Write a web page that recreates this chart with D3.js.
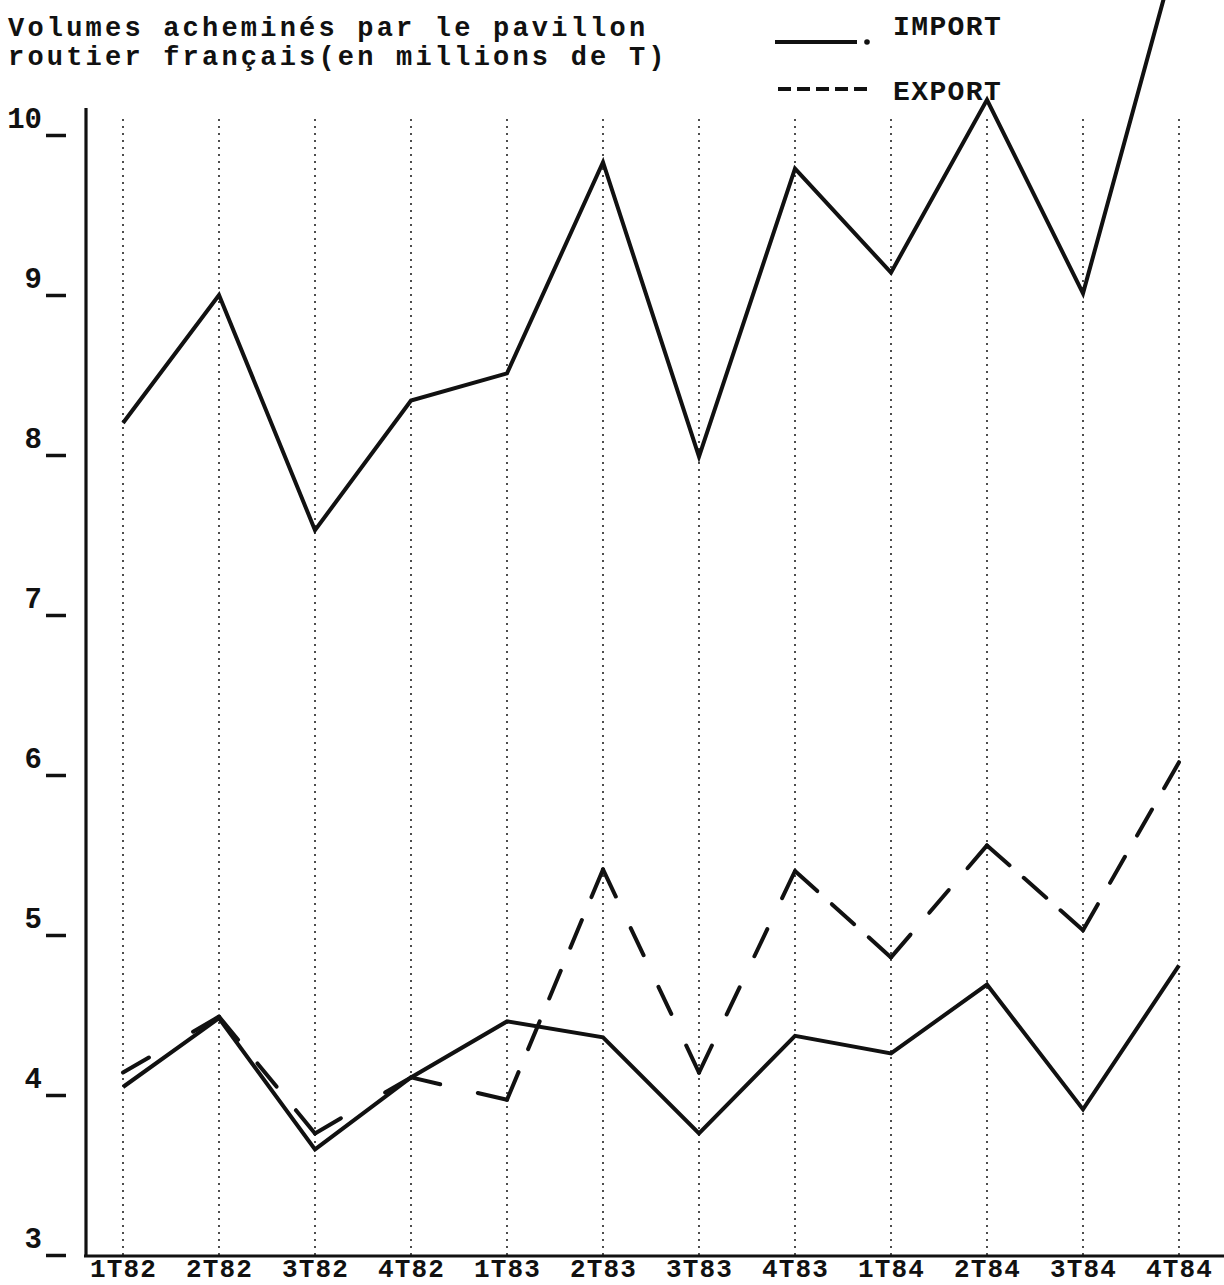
<!DOCTYPE html>
<html>
<head>
<meta charset="utf-8">
<script src="https://cdn.jsdelivr.net/npm/d3@7"></script>
<style>
  html, body { margin: 0; padding: 0; background: #fff; }
  svg { display: block; }
  text { font-family: "Liberation Mono", "DejaVu Sans Mono", monospace; font-weight: bold; fill: #111; }
</style>
</head>
<body>
<svg id="chart" width="1224" height="1285"></svg>
<script>
// ---- data ----
const categories = ["1T82","2T82","3T82","4T82","1T83","2T83","3T83","4T83","1T84","2T84","3T84","4T84"];
const totalValues  = [8.20, 9.00, 7.53, 8.34, 8.51, 9.83, 7.99, 9.79, 9.14, 10.22, 9.01, 11.2];
const importValues = [4.05, 4.48, 3.66, 4.11, 4.46, 4.36, 3.76, 4.37, 4.26, 4.69, 3.91, 4.81];
const exportValues = [4.14, 4.49, 3.76, 4.11, 3.97, 5.41, 4.14, 5.40, 4.86, 5.56, 5.03, 6.08];
const yTicks = [3, 4, 5, 6, 7, 8, 9, 10];
const titleLines = ["Volumes acheminés par le pavillon", "routier français(en millions de T)"];
const legendLabels = ["IMPORT", "EXPORT"];

// ---- layout ----
const svg = d3.select("#chart");
const x = d3.scalePoint().domain(categories).range([123, 1179]);
const y = d3.scaleLinear().domain([3, 10]).range([1255, 135]);
const ink = "#111";

// title
svg.append("g").selectAll("text").data(titleLines).join("text")
  .attr("x", 8).attr("y", (d, i) => 36 + i * 29)
  .attr("font-size", 27).attr("letter-spacing", 3.2)
  .text(d => d);

// vertical dotted grid lines
svg.append("g").selectAll("line").data(categories).join("line")
  .attr("x1", d => x(d)).attr("x2", d => x(d))
  .attr("y1", y(10.1)).attr("y2", y(3))
  .attr("stroke", "#222").attr("stroke-width", 1.6)
  .attr("stroke-dasharray", "2,5");

// y axis
const yAxis = svg.append("g").attr("transform", "translate(86,0)")
  .call(d3.axisLeft(y).tickValues(yTicks).tickSize(0).tickPadding(0).tickFormat(d3.format("d")));
yAxis.select(".domain").remove();
yAxis.selectAll(".tick text")
  .attr("x", -44).attr("dy", "-0.25em")
  .attr("text-anchor", "end")
  .attr("font-size", 29)
  .style("font-family", "'Liberation Mono', monospace").style("font-weight", "bold").style("fill", ink);
yAxis.selectAll(".tick").append("line")
  .attr("x1", -40).attr("x2", -20).attr("y1", 0).attr("y2", 0)
  .attr("stroke", ink).attr("stroke-width", 3.5);

svg.append("line").attr("x1", 86).attr("x2", 86).attr("y1", 108).attr("y2", 1257)
  .attr("stroke", ink).attr("stroke-width", 3.2);

// x axis
const xAxis = svg.append("g").attr("transform", "translate(0,1256)")
  .call(d3.axisBottom(x).tickSize(0).tickPadding(0));
xAxis.select(".domain").remove();
xAxis.selectAll(".tick text")
  .attr("y", 21).attr("dy", 0)
  .attr("font-size", 26).attr("letter-spacing", 1.2)
  .style("font-family", "'Liberation Mono', monospace").style("font-weight", "bold").style("fill", ink);
svg.append("line").attr("x1", 84).attr("x2", 1224).attr("y1", 1256).attr("y2", 1256)
  .attr("stroke", ink).attr("stroke-width", 2.8);

// lines
const line = d3.line().x((d, i) => x(categories[i])).y(d => y(d));
svg.append("path").datum(totalValues).attr("d", line)
  .attr("fill", "none").attr("stroke", ink).attr("stroke-width", 4)
  .attr("stroke-linejoin", "miter");
svg.append("path").datum(importValues).attr("d", line)
  .attr("fill", "none").attr("stroke", ink).attr("stroke-width", 4)
  .attr("stroke-linejoin", "miter");

// export: dashed, each segment dashed from vertex to vertex
const segs = d3.pairs(exportValues.map((v, i) => [x(categories[i]), y(v)]));
const dashLen = 30, gapLen = 26;
svg.append("g").selectAll("line").data(segs).join("line")
  .attr("x1", d => d[0][0]).attr("y1", d => d[0][1])
  .attr("x2", d => d[1][0]).attr("y2", d => d[1][1])
  .attr("stroke", ink).attr("stroke-width", 4).attr("stroke-linecap", "round")
  .attr("stroke-dasharray", d => {
    const L = Math.hypot(d[1][0] - d[0][0], d[1][1] - d[0][1]);
    const n = Math.max(2, Math.round((L + gapLen) / (dashLen + gapLen)));
    const g = (L - n * dashLen) / (n - 1);
    return g > 4 ? `${dashLen},${g}` : `${(L - (n - 1) * 8) / n},8`;
  });

// legend
const lg = svg.append("g");
lg.selectAll("text").data(legendLabels).join("text")
  .attr("x", 893).attr("y", (d, i) => 35 + i * 65)
  .attr("font-size", 28).attr("letter-spacing", 1.4)
  .text(d => d);
lg.append("line").attr("x1", 775).attr("x2", 857).attr("y1", 42).attr("y2", 42)
  .attr("stroke", ink).attr("stroke-width", 4);
lg.append("circle").attr("cx", 867).attr("cy", 42).attr("r", 2.8).attr("fill", ink);
lg.append("line").attr("x1", 778).attr("x2", 867).attr("y1", 89).attr("y2", 89)
  .attr("stroke", ink).attr("stroke-width", 4).attr("stroke-dasharray", "13,6");
</script>
</body>
</html>
